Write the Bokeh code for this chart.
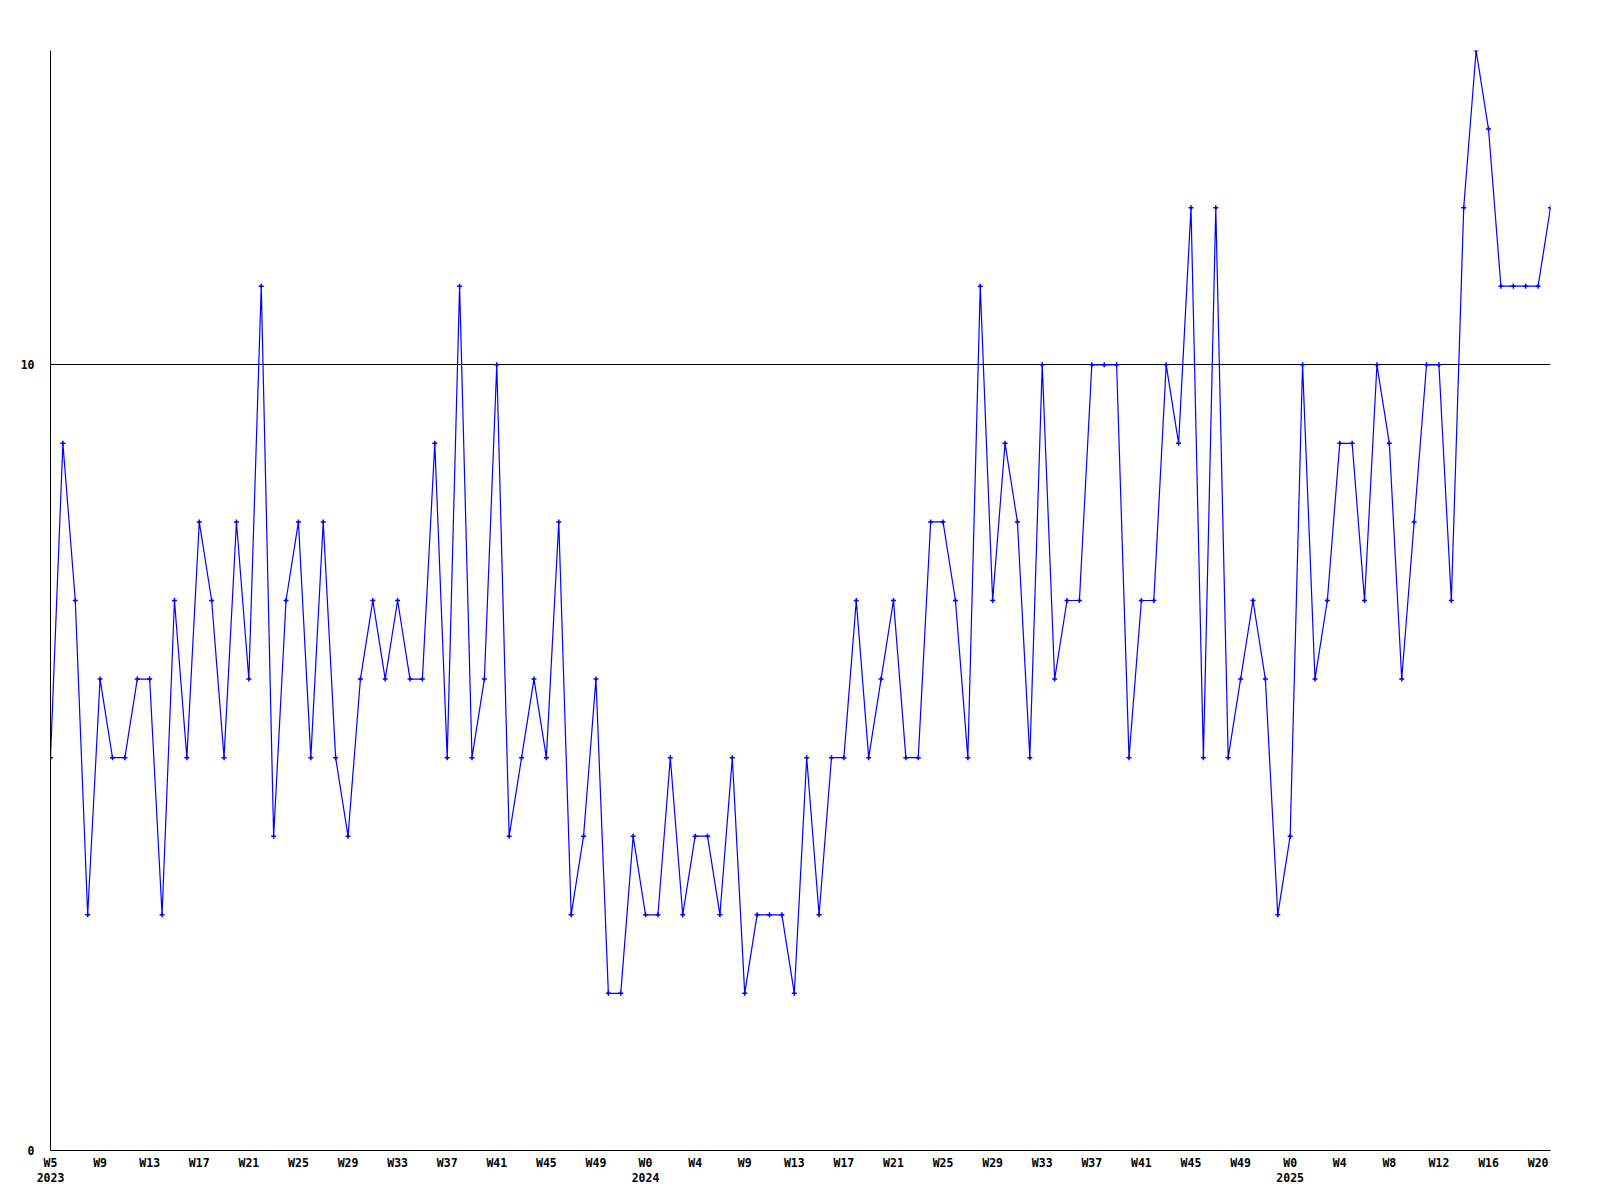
from bokeh.plotting import figure
from bokeh.models import ColumnDataSource, Range1d, FixedTicker, LinearAxis
from bokeh.embed import file_html
from bokeh.resources import INLINE

# weekly counts, W5 2023 .. W21 2025
values = [5, 9, 7, 3, 6, 5, 5, 6, 6, 3,
          7, 5, 8, 7, 5, 8, 6, 11, 4, 7,
          8, 5, 8, 5, 4, 6, 7, 6, 7, 6,
          6, 9, 5, 11, 5, 6, 10, 4, 5, 6,
          5, 8, 3, 4, 6, 2, 2, 4, 3, 3,
          5, 3, 4, 4, 3, 5, 2, 3, 3, 3,
          2, 5, 3, 5, 5, 7, 5, 6, 7, 5,
          5, 8, 8, 7, 5, 11, 7, 9, 8, 5,
          10, 6, 7, 7, 10, 10, 10, 5, 7, 7,
          10, 9, 12, 5, 12, 5, 6, 7, 6, 3,
          4, 10, 6, 7, 9, 9, 7, 10, 9, 6,
          8, 10, 10, 7, 12, 14, 13, 11, 11, 11,
          11, 12]

week_labels = ["W5", "W9", "W13", "W17", "W21", "W25", "W29", "W33", "W37", "W41", "W45", "W49",
               "W0", "W4", "W9", "W13", "W17", "W21", "W25", "W29", "W33", "W37", "W41", "W45", "W49",
               "W0", "W4", "W8", "W12", "W16", "W20"]
year_labels = ["2023", "2024", "2025"]
year_label_index = [0, 12, 25]   # which week label each year sits under

y_ticks = [0, 10]
y_max = 14
tick_step = 4

x = list(range(len(values)))
src = ColumnDataSource(data=dict(x=x, y=values))

FONT = "DejaVu Sans Mono"
FS = "11.5px"

p = figure(width=1570, height=1184,
           x_range=Range1d(0, len(values) - 1), y_range=Range1d(0, y_max),
           output_backend="svg", toolbar_location=None,
           min_border_left=50, min_border_top=50, min_border_right=20, min_border_bottom=34,
           x_axis_location=None, y_axis_location=None)
p.outline_line_color = None
p.background_fill_color = "white"

tick_pos = [i * tick_step for i in range(len(week_labels))]

xa = LinearAxis(ticker=FixedTicker(ticks=tick_pos),
                major_label_overrides={t: l for t, l in zip(tick_pos, week_labels)})
yr_ticks = [tick_pos[i] for i in year_label_index]
xa2 = LinearAxis(ticker=FixedTicker(ticks=yr_ticks),
                 major_label_overrides={t: l for t, l in zip(yr_ticks, year_labels)})
ya = LinearAxis(ticker=FixedTicker(ticks=y_ticks))

for ax in (xa, xa2, ya):
    ax.major_tick_out = 0
    ax.major_tick_in = 0
    ax.minor_tick_out = 0
    ax.minor_tick_in = 0
    ax.major_label_text_font = FONT
    ax.major_label_text_font_style = "bold"
    ax.major_label_text_font_size = FS
    ax.major_label_text_color = "black"
    ax.axis_line_color = "black"
    ax.axis_line_width = 1

xa.major_label_standoff = 5
xa2.major_label_standoff = 0
xa2.axis_line_color = None
ya.major_label_standoff = 16

p.add_layout(xa, "below")
p.add_layout(xa2, "below")
p.add_layout(ya, "left")

p.xgrid.visible = False
p.ygrid.ticker = FixedTicker(ticks=[10])
p.ygrid.grid_line_color = "black"
p.ygrid.grid_line_width = 1

p.line("x", "y", source=src, line_color="#0000ff", line_width=1.2)
p.scatter("x", "y", source=src, marker="cross", size=5, line_color="#0000ff", line_width=1.5)

open("out.html", "w").write(file_html(p, INLINE))
